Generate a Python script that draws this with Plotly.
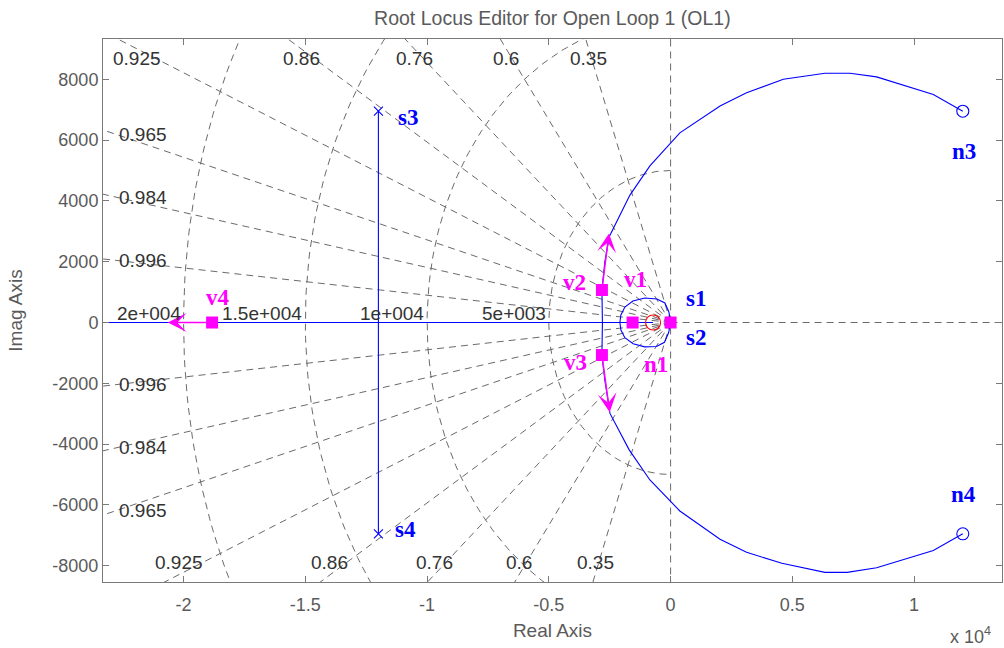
import numpy as np
import plotly.graph_objects as go

# ---- root locus data (real / imaginary parts) ----
# open-loop poles
pole_names = ["s1", "s2", "s3", "s4"]
pole_re = [0, 0, -12000, -12000]
pole_im = [0, 0, 6950, -6950]

# open-loop zeros (n1 belongs to the compensator)
zero_names = ["n1", "n3", "n4"]
zero_re = [-720, 12000, 12000]
zero_im = [0, 6950, -6950]

# closed-loop poles at the current gain
cl_names = ["", "v1", "v2", "v3", "v4"]
cl_re = [0, -1560, -2820, -2820, -18830]
cl_im = [0, 0, 1070, -1070, 0]

# direction-of-increasing-gain arrows (start at a closed-loop pole)
arrow_from = ["v2", "v3", "v4"]
arrow_tip_re = [-2530, -2500, -20650]
arrow_tip_im = [2930, -2950, 0]

# locus branches
real_axis_re = [-40000, -720]
real_axis_im = [0, 0]

arc_up_re = [-2800, -2820, -2700, -2520, -1670, -850, 380, 2030, 3120, 4630, 6340, 7370, 8460, 10790, 12000]
arc_up_im = [0, 1070, 2000, 2820, 4190, 5150, 6240, 7120, 7560, 8000, 8200, 8200, 8080, 7500, 6950]
arc_lo_re = [-2800, -2820, -2700, -2490, -1700, -850, 380, 2030, 3120, 4570, 6340, 7250, 8460, 10790, 12000]
arc_lo_im = [0, -1070, -1900, -2990, -4190, -5180, -6200, -7130, -7560, -7920, -8220, -8220, -8070, -7500, -6950]

loop_up_re = [0, -70, -234, -563, -1056, -1549, -1877, -2042, -2083]
loop_up_im = [0, 345, 641, 773, 806, 707, 510, 247, 0]
loop_lo_re = [0, -80, -250, -580, -1060, -1540, -1880, -2040, -2083]
loop_lo_im = [0, -330, -650, -790, -800, -700, -500, -250, 0]

# s-plane grid: damping ratios and natural frequencies
zetas = [0.35, 0.6, 0.76, 0.86, 0.925, 0.965, 0.984, 0.996]
wns = [5000, 10000, 15000, 20000]
wn_labels = ["5e+003", "1e+004", "1.5e+004", "2e+004"]

# axis ticks
x_ticks = [-20000, -15000, -10000, -5000, 0, 5000, 10000]
x_ticktext = ["-2", "-1.5", "-1", "-0.5", "0", "0.5", "1"]
y_ticks = [-8000, -6000, -4000, -2000, 0, 2000, 4000, 6000, 8000]

X_RANGE = [-23310, 13610]
Y_RANGE = [-8536, 9326]

BLUE = "#0000ff"
MAGENTA = "#ff00ff"
RED = "#ff0000"
GRID = "#6a6a6a"
AXC = "#5a5a5a"
SANS = "Liberation Sans, Arial, sans-serif"
SERIF = "Liberation Serif, Times New Roman, serif"

fig = go.Figure()

# ---- grid lines ----
far = 60000.0
gx, gy = [], []
for z in zetas:
    s = np.sqrt(1 - z * z)
    for sign in (1, -1):
        gx += [0, -far * z, None]
        gy += [0, sign * far * s, None]
# imaginary axis and positive real axis
gx += [0, 0, None, 0, far, None]
gy += [-far, far, None, 0, 0, None]
th = np.linspace(np.pi / 2, 3 * np.pi / 2, 181)
for r in wns:
    gx += list(r * np.cos(th)) + [None]
    gy += list(r * np.sin(th)) + [None]
fig.add_trace(go.Scatter(x=gx, y=gy, mode="lines",
                         line=dict(color=GRID, width=1, dash="7px,5px"),
                         hoverinfo="skip", showlegend=False))

# ---- locus branches ----
lx, ly = [], []
for bx, by in [(real_axis_re, real_axis_im),
               ([pole_re[2], pole_re[3]], [pole_im[2], pole_im[3]]),
               (arc_up_re, arc_up_im), (arc_lo_re, arc_lo_im),
               (loop_up_re, loop_up_im), (loop_lo_re, loop_lo_im)]:
    lx += list(bx) + [None]
    ly += list(by) + [None]
fig.add_trace(go.Scatter(x=lx, y=ly, mode="lines",
                         line=dict(color=BLUE, width=1.1),
                         hoverinfo="skip", showlegend=False))

# ---- poles / zeros ----
fig.add_trace(go.Scatter(x=pole_re, y=pole_im, mode="markers",
                         marker=dict(symbol="x-thin", size=9, color=BLUE,
                                     line=dict(color=BLUE, width=1.1)),
                         showlegend=False))
fig.add_trace(go.Scatter(x=zero_re[1:], y=zero_im[1:], mode="markers",
                         marker=dict(symbol="circle-open", size=12, color=BLUE,
                                     line=dict(color=BLUE, width=1.1)),
                         showlegend=False))
fig.add_trace(go.Scatter(x=zero_re[:1], y=zero_im[:1], mode="markers",
                         marker=dict(symbol="circle-open", size=15, color=RED,
                                     line=dict(color=RED, width=1.1)),
                         showlegend=False))

# ---- gain direction arrows ----
for name, tx, ty in zip(arrow_from, arrow_tip_re, arrow_tip_im):
    i = cl_names.index(name)
    fig.add_annotation(x=tx, y=ty, ax=cl_re[i], ay=cl_im[i],
                       xref="x", yref="y", axref="x", ayref="y",
                       text="", showarrow=True, arrowhead=3,
                       arrowsize=2.1, arrowwidth=1.5, arrowcolor=MAGENTA,
                       standoff=0, startstandoff=0)

# ---- closed-loop poles ----
fig.add_trace(go.Scatter(x=cl_re, y=cl_im, mode="markers",
                         marker=dict(symbol="square", size=12, color=MAGENTA,
                                     line=dict(width=0)),
                         showlegend=False))

# ---- grid labels ----
for z in zetas:
    t = np.sqrt(1 - z * z) / z
    x_top = -9000 / t
    if x_top > X_RANGE[0] + 500:
        fig.add_annotation(x=x_top, y=9000, text=f"{z:g}", showarrow=False,
                           xanchor="center", yanchor="top", yshift=3,
                           font=dict(family=SANS, size=19, color="#333333"))
        fig.add_annotation(x=-8300 / t, y=-8300, text=f"{z:g}", showarrow=False,
                           xanchor="center", yanchor="bottom",
                           font=dict(family=SANS, size=19, color="#333333"))
    else:
        for sign in (1, -1):
            fig.add_annotation(x=-22750, y=sign * 22750 * t, text=f"{z:g}",
                               showarrow=False, xanchor="left", yanchor="middle",
                               font=dict(family=SANS, size=19, color="#333333"))
for r, lab in zip(wns, wn_labels):
    fig.add_annotation(x=-r, y=0, text=lab, showarrow=False,
                       xanchor="right", yanchor="bottom", xshift=-1, yshift=-3,
                       font=dict(family=SANS, size=19, color="#333333"))

# ---- pole / zero names ----
name_shift = {
    "s1": (25, 24), "s2": (25, -15), "s3": (30, -6), "s4": (27, 4),
    "n1": (3, -42), "n3": (1, -40), "n4": (1, 39),
    "v1": (3, 43), "v2": (-27, 7), "v3": (-26, -7), "v4": (6, 25),
}
for names, xs, ys in [(pole_names, pole_re, pole_im),
                      (zero_names, zero_re, zero_im),
                      (cl_names, cl_re, cl_im)]:
    for n, x, y in zip(names, xs, ys):
        if not n:
            continue
        dx, dy = name_shift[n]
        col = MAGENTA if n[0] == "v" or n == "n1" else BLUE
        fig.add_annotation(x=x, y=y, text=f"<b>{n}</b>", showarrow=False,
                           xshift=dx, yshift=dy, xanchor="center", yanchor="middle",
                           font=dict(family=SERIF, size=23, color=col))

# exponent of the real axis
fig.add_annotation(x=1, y=-0.099, xref="paper", yref="paper", xshift=-9,
                   text="x 10<sup>4</sup>", showarrow=False,
                   xanchor="right", yanchor="middle",
                   font=dict(family=SANS, size=18, color=AXC))

axis_common = dict(showline=True, linecolor="#7a7a7a", linewidth=1, mirror="ticks",
                   ticks="inside", ticklen=6, tickcolor="#7a7a7a",
                   showgrid=False, zeroline=False,
                   tickfont=dict(family=SANS, size=18, color=AXC))

fig.update_layout(
    width=1004, height=648,
    margin=dict(l=103, r=2, t=39, b=66),
    paper_bgcolor="white", plot_bgcolor="white",
    title=dict(text="Root Locus Editor for Open Loop 1 (OL1)", x=0.5502, xanchor="center",
               y=0.972, yanchor="middle",
               font=dict(family=SANS, size=19.5, color=AXC)),
    xaxis=dict(range=X_RANGE, tickvals=x_ticks, ticktext=x_ticktext,
               title=dict(text="Real Axis", font=dict(family=SANS, size=19, color=AXC),
                          standoff=10),
               ticklabelstandoff=6, **axis_common),
    yaxis=dict(range=Y_RANGE, tickvals=y_ticks, ticktext=[str(v) for v in y_ticks],
               title=dict(text="Imag Axis", font=dict(family=SANS, size=19, color=AXC),
                          standoff=24),
               **axis_common),
    showlegend=False,
)

fig.write_html("out.html")
